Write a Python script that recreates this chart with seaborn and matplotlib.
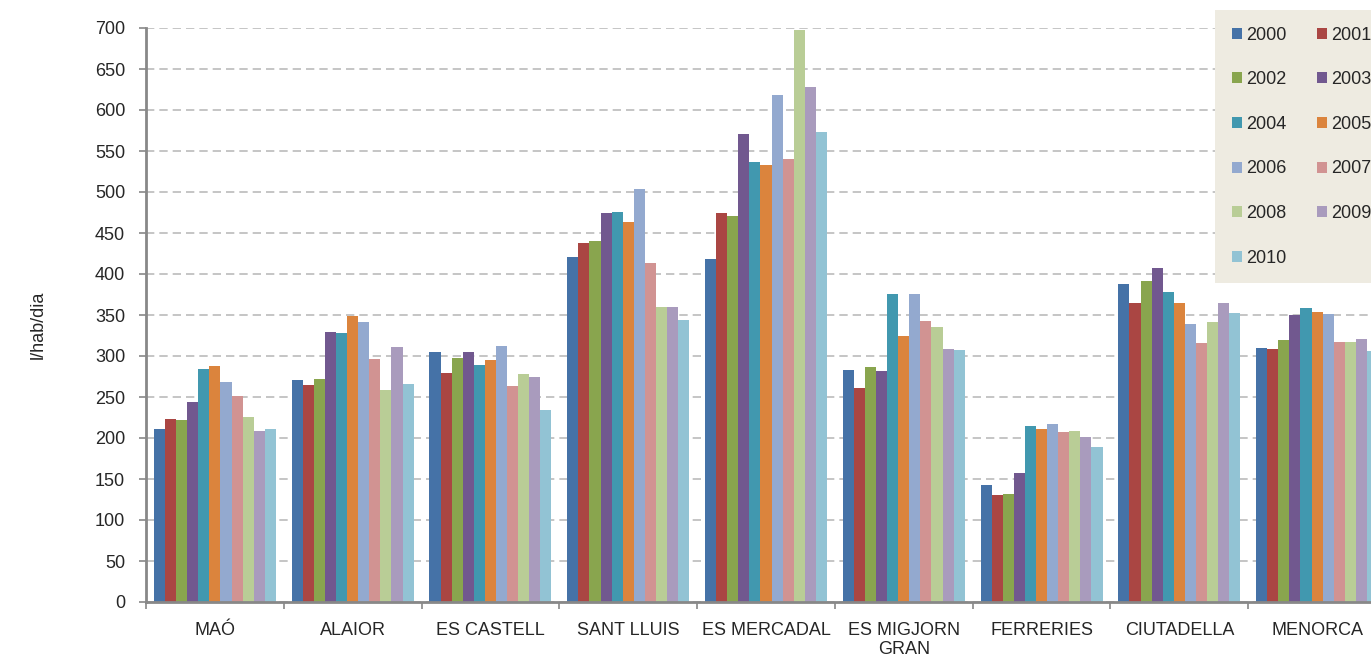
import pandas as pd
import matplotlib
matplotlib.use("Agg")
import matplotlib.pyplot as plt
import seaborn as sns
from matplotlib.ticker import MultipleLocator, FixedLocator

# Water consumption per inhabitant and day (l/hab/dia), Menorca 2000-2010
years = ['2000', '2001', '2002', '2003', '2004', '2005',
         '2006', '2007', '2008', '2009', '2010']
towns = ['MAÓ', 'ALAIOR', 'ES CASTELL', 'SANT LLUIS', 'ES MERCADAL',
         'ES MIGJORN\nGRAN', 'FERRERIES', 'CIUTADELLA', 'MENORCA']

mao = [211, 223, 222, 244, 284, 288, 268, 251, 226, 209, 211]
alaior = [271, 265, 272, 329, 328, 349, 341, 296, 259, 311, 266]
es_castell = [305, 279, 298, 305, 289, 295, 312, 263, 278, 274, 234]
sant_lluis = [421, 438, 440, 474, 476, 463, 504, 413, 360, 360, 344]
es_mercadal = [418, 474, 471, 571, 537, 533, 618, 540, 698, 628, 573]
es_migjorn = [283, 261, 287, 282, 376, 324, 376, 343, 335, 309, 307]
ferreries = [143, 130, 132, 157, 215, 211, 217, 207, 208, 201, 189]
ciutadella = [388, 365, 391, 407, 378, 365, 339, 316, 341, 365, 352]
menorca = [310, 309, 320, 350, 358, 354, 351, 317, 317, 321, 306]

colors = ['#4572A7', '#AA4643', '#89A54E', '#71588F', '#4198AF', '#DB843D',
          '#93A9CF', '#D19392', '#B9CD96', '#A99BBD', '#92C3D4']

rows = []
for town, vals in zip(towns, [mao, alaior, es_castell, sant_lluis, es_mercadal,
                              es_migjorn, ferreries, ciutadella, menorca]):
    for yr, v in zip(years, vals):
        rows.append({'municipi': town, 'any': yr, 'valor': v})
df = pd.DataFrame(rows)

sns.set_style('white')
plt.rcParams['font.family'] = ['Liberation Sans', 'DejaVu Sans']

fig = plt.figure(figsize=(13.71, 6.57), dpi=100)
ax = fig.add_axes([146 / 1371, 55 / 657, 1240 / 1371, 574 / 657])

sns.barplot(data=df, x='municipi', y='valor', hue='any', order=towns,
            hue_order=years, palette=colors, saturation=1, width=0.885,
            linewidth=0, errorbar=None, ax=ax)

ax.set_xlim(-0.5, len(towns) - 0.5)
ax.set_ylim(0, 700)
ax.yaxis.set_major_locator(MultipleLocator(50))
ax.set_axisbelow(True)
ax.yaxis.grid(True, color='#BBBBBB', linestyle=(0, (5, 3)), linewidth=1.2)
ax.xaxis.grid(False)

for s in ['top', 'right']:
    ax.spines[s].set_visible(False)
for s in ['left', 'bottom']:
    ax.spines[s].set_color('#888888')
    ax.spines[s].set_linewidth(2)

ax.set_xlabel('')
ax.set_ylabel('')
ax.tick_params(axis='y', direction='out', length=5, width=1.2, color='#888888',
               labelsize=13, pad=10, left=True)
ax.tick_params(axis='x', which='major', length=0, labelsize=13, pad=14.5)
ax.xaxis.set_minor_locator(FixedLocator([i - 0.5 for i in range(len(towns) + 1)]))
ax.tick_params(axis='x', which='minor', direction='out', length=5, width=1.2,
               color='#888888', bottom=True)
for lab in ax.get_xticklabels():
    lab.set_linespacing(1.15)

fig.text(38 / 1371, 1 - 325 / 657, 'l/hab/dia', rotation=90, ha='center',
         va='center', fontsize=13)

handles, labels = ax.get_legend_handles_labels()
order = list(range(0, 11, 2)) + list(range(1, 11, 2))
ax.legend([handles[i] for i in order], [labels[i] for i in order], ncol=2,
          loc='upper left', bbox_to_anchor=(1215 / 1371, 1 - 10 / 657),
          bbox_transform=fig.transFigure, fontsize=13, frameon=True,
          fancybox=False, facecolor='#EEEBE1', edgecolor='none', framealpha=1,
          handlelength=0.55, handleheight=0.55, handletextpad=0.25,
          columnspacing=1.7, labelspacing=1.53, borderpad=0.92,
          borderaxespad=0)

fig.savefig('out.png', dpi=100)
